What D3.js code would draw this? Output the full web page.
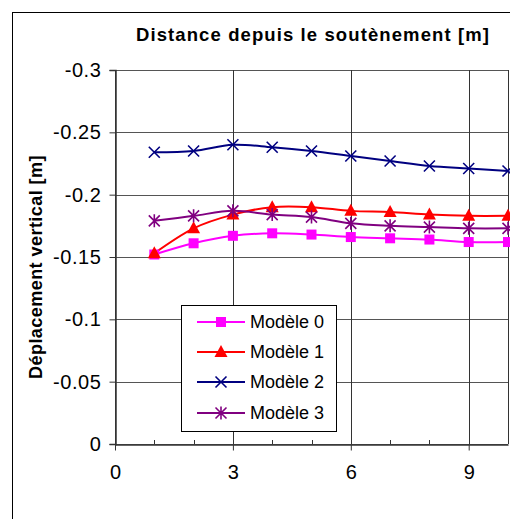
<!DOCTYPE html>
<html>
<head>
<meta charset="utf-8">
<script src="https://cdn.jsdelivr.net/npm/d3@7"></script>
<style>
  html, body { margin: 0; padding: 0; background: #fff; }
  svg { display: block; font-family: Arial, "Liberation Sans", sans-serif; }
</style>
</head>
<body>
<svg id="chart" width="510" height="519"></svg>
<script>
// Distances along the tunnel [m]
const distances = [1, 2, 3, 4, 5, 6, 7, 8, 9, 10];
// Vertical displacement for each model [m]
const modele0 = [-0.152, -0.161, -0.167, -0.169, -0.168, -0.166, -0.165, -0.164, -0.162, -0.162];
const modele1 = [-0.153, -0.173, -0.184, -0.190, -0.190, -0.187, -0.186, -0.184, -0.183, -0.183];
const modele2 = [-0.234, -0.235, -0.240, -0.238, -0.235, -0.231, -0.227, -0.223, -0.221, -0.219];
const modele3 = [-0.179, -0.183, -0.187, -0.184, -0.182, -0.177, -0.175, -0.174, -0.173, -0.173];
const seriesNames = ["Modèle 0", "Modèle 1", "Modèle 2", "Modèle 3"];
const xTicks = [0, 3, 6, 9];
const xMinorTicks = [1, 2, 4, 5, 7, 8, 10];
const yTicks = [-0.3, -0.25, -0.2, -0.15, -0.1, -0.05, 0];

const series = [
  { name: seriesNames[0], values: modele0, color: "#FF00FF", marker: "square" },
  { name: seriesNames[1], values: modele1, color: "#FF0000", marker: "triangle" },
  { name: seriesNames[2], values: modele2, color: "#000080", marker: "cross" },
  { name: seriesNames[3], values: modele3, color: "#800080", marker: "star" }
];

const svg = d3.select("#chart");
const plot = { left: 115, top: 70, right: 508, bottom: 444 };
const FONT = "Arial, 'Liberation Sans', sans-serif";

const x = d3.scaleLinear().domain([0, 10]).range([plot.left, plot.right]);
const y = d3.scaleLinear().domain([0, -0.3]).range([plot.bottom, plot.top]);

// Outer chart frame
svg.append("rect")
  .attr("x", 12.5).attr("y", 12.5)
  .attr("width", 520).attr("height", 530)
  .attr("fill", "none").attr("stroke", "#000").attr("stroke-width", 1);

// Title
svg.append("text")
  .attr("x", 313).attr("y", 41)
  .attr("text-anchor", "middle")
  .attr("font-size", 18.5).attr("font-weight", "bold")
  .style("letter-spacing", "1.1px")
  .text("Distance depuis le soutènement [m]");

// Horizontal grid
svg.append("g")
  .selectAll("line")
  .data(yTicks)
  .join("line")
  .attr("x1", plot.left).attr("x2", plot.right)
  .attr("y1", d => Math.round(y(d)) + 0.5).attr("y2", d => Math.round(y(d)) + 0.5)
  .attr("stroke", "#555").attr("stroke-width", 1);

// Vertical grid
svg.append("g")
  .selectAll("line")
  .data(xTicks.concat([10]))
  .join("line")
  .attr("x1", d => Math.round(x(d)) + 0.5).attr("x2", d => Math.round(x(d)) + 0.5)
  .attr("y1", plot.top).attr("y2", plot.bottom)
  .attr("stroke", "#333").attr("stroke-width", 1);

// Y axis
const yAxis = svg.append("g")
  .attr("transform", `translate(${plot.left + 0.5},0)`)
  .call(d3.axisLeft(y).tickValues(yTicks).tickSize(6).tickPadding(8)
    .tickFormat(d => d === 0 ? "0" : String(+d.toFixed(2))));
yAxis.select(".domain").attr("stroke", "#333").attr("stroke-width", 1.5);
yAxis.selectAll(".tick line").attr("stroke", "#333");
yAxis.selectAll("text").attr("font-size", 20).attr("fill", "#000")
  .attr("font-family", FONT).style("letter-spacing", "0.6px");

// X axis with major ticks below and minor ticks above
const xAxis = svg.append("g")
  .attr("transform", `translate(0,${plot.bottom + 0.5})`)
  .call(d3.axisBottom(x).tickValues(xTicks).tickSize(6).tickPadding(14).tickSizeOuter(0));
xAxis.select(".domain").attr("stroke", "#333").attr("stroke-width", 1.5);
xAxis.selectAll(".tick line").attr("stroke", "#333");
xAxis.selectAll("text").attr("font-size", 20).attr("fill", "#000")
  .attr("font-family", FONT);
svg.append("g")
  .selectAll("line")
  .data(xMinorTicks)
  .join("line")
  .attr("x1", d => Math.round(x(d)) + 0.5).attr("x2", d => Math.round(x(d)) + 0.5)
  .attr("y1", plot.bottom - 4).attr("y2", plot.bottom)
  .attr("stroke", "#333");

// Y axis title
svg.append("text")
  .attr("transform", `translate(42,267) rotate(-90)`)
  .attr("text-anchor", "middle")
  .attr("font-size", 18).attr("font-weight", "bold")
  .style("letter-spacing", "0.45px")
  .text("Déplacement vertical [m]");

// Marker shapes
function drawMarker(g, type, color) {
  if (type === "square") {
    g.append("rect").attr("x", -5).attr("y", -5).attr("width", 10).attr("height", 10)
      .attr("fill", color);
  } else if (type === "triangle") {
    g.append("path").attr("d", "M0,-7L6.5,5L-6.5,5Z").attr("fill", color);
  } else if (type === "cross") {
    g.append("path").attr("d", "M-5.5,-5.5L5.5,5.5M-5.5,5.5L5.5,-5.5")
      .attr("stroke", color).attr("stroke-width", 1.6).attr("fill", "none");
  } else if (type === "star") {
    g.append("path").attr("d", "M-5.5,-5.5L5.5,5.5M-5.5,5.5L5.5,-5.5M0,-6.5L0,6.5")
      .attr("stroke", color).attr("stroke-width", 1.6).attr("fill", "none");
  }
}

const line = d3.line()
  .x((d, i) => x(distances[i]))
  .y(d => y(d))
  .curve(d3.curveCatmullRom.alpha(0));

const seriesG = svg.append("g");
series.forEach(s => {
  seriesG.append("path")
    .attr("d", line(s.values))
    .attr("fill", "none").attr("stroke", s.color).attr("stroke-width", 2);
});
series.forEach(s => {
  seriesG.append("g").selectAll("g")
    .data(s.values)
    .join("g")
    .attr("transform", (d, i) => `translate(${x(distances[i])},${y(d)})`)
    .each(function () { drawMarker(d3.select(this), s.marker, s.color); });
});

// Legend
const legend = svg.append("g");
legend.append("rect")
  .attr("x", 181.5).attr("y", 305.5).attr("width", 155).attr("height", 126)
  .attr("fill", "#fff").attr("stroke", "#000").attr("stroke-width", 1);
const rowY = [322, 352, 382, 413];
series.forEach((s, i) => {
  const r = legend.append("g").attr("transform", `translate(0,${rowY[i]})`);
  r.append("line").attr("x1", 197).attr("x2", 245).attr("y1", 0).attr("y2", 0)
    .attr("stroke", s.color).attr("stroke-width", 2);
  drawMarker(r.append("g").attr("transform", "translate(221,0)"), s.marker, s.color);
  r.append("text").attr("x", 250).attr("y", 6)
    .attr("font-size", 18).text(s.name);
});
</script>
</body>
</html>
